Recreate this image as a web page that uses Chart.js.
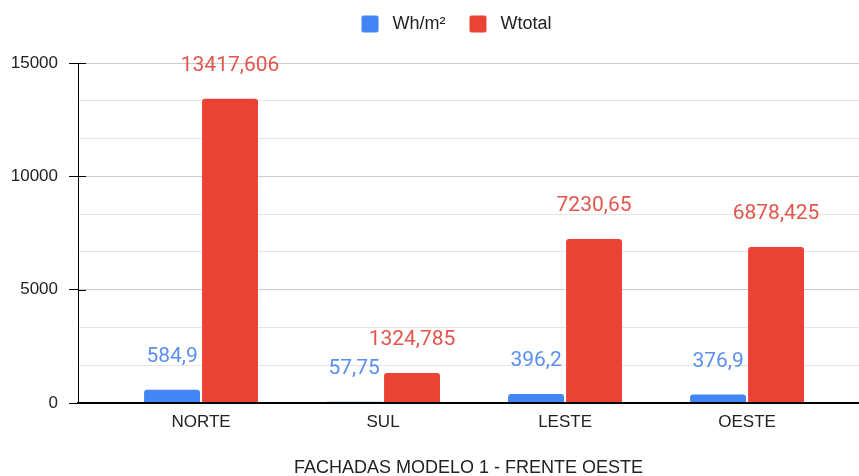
<!DOCTYPE html>
<html>
<head>
<meta charset="utf-8">
<title>Fachadas modelo 1</title>
<script src="https://cdn.jsdelivr.net/npm/chart.js@4/dist/chart.umd.min.js"></script>
<style>
  html, body { margin: 0; padding: 0; background: #fff; }
  canvas { display: block; }
</style>
</head>
<body>
<canvas id="chart" width="859" height="476"></canvas>
<script>
// Chart data
const categories = ['NORTE', 'SUL', 'LESTE', 'OESTE'];
const whM2 = [584.9, 57.75, 396.2, 376.9];
const wTotal = [13417.606, 1324.785, 7230.65, 6878.425];
const yTicks = [0, 5000, 10000, 15000];
const minorSteps = 3;
const xTitle = 'FACHADAS MODELO 1 - FRENTE OESTE';

const BLUE = '#4285f4';
const RED = '#ea4335';
const FONT = 'Arial, "Liberation Sans"';

// bars sit on a linear x axis so the category band can start a bit right of the y axis
const toPoints = values => values.map((v, i) => ({ x: i, y: v }));

// numbers above each bar, comma as decimal separator
const valueLabels = {
    id: 'valueLabels',
    afterDatasetsDraw(chart) {
        const ctx = chart.ctx;
        ctx.save();
        ctx.font = '21px Roboto';
        ctx.textAlign = 'center';
        ctx.textBaseline = 'middle';
        chart.data.datasets.forEach((ds, i) => {
            ctx.fillStyle = ds.labelColor;
            chart.getDatasetMeta(i).data.forEach((bar, j) => {
                const text = String(ds.data[j].y).replace('.', ',');
                ctx.fillText(text, bar.x, bar.y - 33);
            });
        });
        ctx.restore();
    }
};

// major y ticks cross the axis line a little
const axisTicks = {
    id: 'axisTicks',
    afterDraw(chart) {
        const y = chart.scales.y;
        const ctx = chart.ctx;
        ctx.save();
        ctx.strokeStyle = '#000';
        ctx.lineWidth = 1;
        yTicks.forEach(v => {
            const py = Math.round(y.getPixelForValue(v)) + 0.5;
            ctx.beginPath();
            ctx.moveTo(chart.chartArea.left, py);
            ctx.lineTo(chart.chartArea.left + 8, py);
            ctx.stroke();
        });
        ctx.restore();
    }
};

// legend sits higher and a little right of centre
const legendShift = {
    id: 'legendShift',
    afterLayout(chart) {
        const lg = chart.legend;
        lg.left += 27;
        lg.right += 27;
        lg.top -= 20;
        lg.bottom -= 20;
    }
};

const isMajor = v => yTicks.some(t => Math.abs(t - v) < 1e-6);

new Chart(document.getElementById('chart'), {
    type: 'bar',
    data: {
        datasets: [
            {
                label: 'Wh/m²',
                data: toPoints(whM2),
                backgroundColor: BLUE,
                labelColor: '#5a8ff0',
                borderRadius: 3,
                borderSkipped: 'bottom'
            },
            {
                label: 'Wtotal',
                data: toPoints(wTotal),
                backgroundColor: RED,
                labelColor: '#e3554b',
                borderRadius: 3,
                borderSkipped: 'bottom'
            }
        ]
    },
    options: {
        responsive: false,
        animation: false,
        categoryPercentage: 0.637,
        barPercentage: 0.965,
        layout: { padding: { top: 11, left: 0, right: 0, bottom: 0 } },
        plugins: {
            legend: {
                position: 'top',
                labels: {
                    boxWidth: 17,
                    boxHeight: 17,
                    useBorderRadius: true,
                    borderRadius: 2,
                    padding: 24,
                    color: '#222',
                    font: { family: FONT, size: 18 },
                    generateLabels: chart => Chart.defaults.plugins.legend.labels.generateLabels(chart)
                        .map(item => ({ ...item, text: ' ' + item.text }))
                }
            },
            tooltip: { enabled: false }
        },
        scales: {
            x: {
                type: 'linear',
                min: -0.676,
                max: 3.615,
                offset: false,
                afterBuildTicks: scale => {
                    scale.ticks = categories.map((_, i) => ({ value: i }));
                },
                afterFit: scale => { scale.height = 73; },
                grid: { display: false },
                border: { color: '#000', width: 2, z: 1 },
                ticks: {
                    autoSkip: false,
                    maxRotation: 0,
                    padding: 1,
                    color: '#222',
                    font: { family: FONT, size: 17 },
                    callback: v => categories[v]
                },
                title: {
                    display: true,
                    text: xTitle,
                    color: '#222',
                    padding: { top: 4, bottom: -3 },
                    font: { family: FONT, size: 18 }
                }
            },
            y: {
                min: yTicks[0],
                max: yTicks[yTicks.length - 1],
                afterBuildTicks: scale => {
                    const step = (yTicks[1] - yTicks[0]) / minorSteps;
                    const count = (yTicks.length - 1) * minorSteps;
                    scale.ticks = Array.from({ length: count + 1 }, (_, i) => ({ value: yTicks[0] + i * step }));
                },
                afterFit: scale => { scale.width = 78; },
                border: { color: '#000', width: 1 },
                grid: {
                    color: ctx => ctx.tick.value === 0 ? '#000' : (isMajor(ctx.tick.value) ? '#cccccc' : '#e6e6e6'),
                    tickColor: ctx => isMajor(ctx.tick.value) ? '#000' : 'rgba(0,0,0,0)',
                    tickLength: 9
                },
                ticks: {
                    autoSkip: false,
                    padding: 11,
                    color: '#222',
                    font: { family: FONT, size: 17 },
                    callback: v => isMajor(v) ? String(Math.round(v)) : ''
                }
            }
        }
    },
    plugins: [valueLabels, axisTicks, legendShift]
});
</script>
</body>
</html>
